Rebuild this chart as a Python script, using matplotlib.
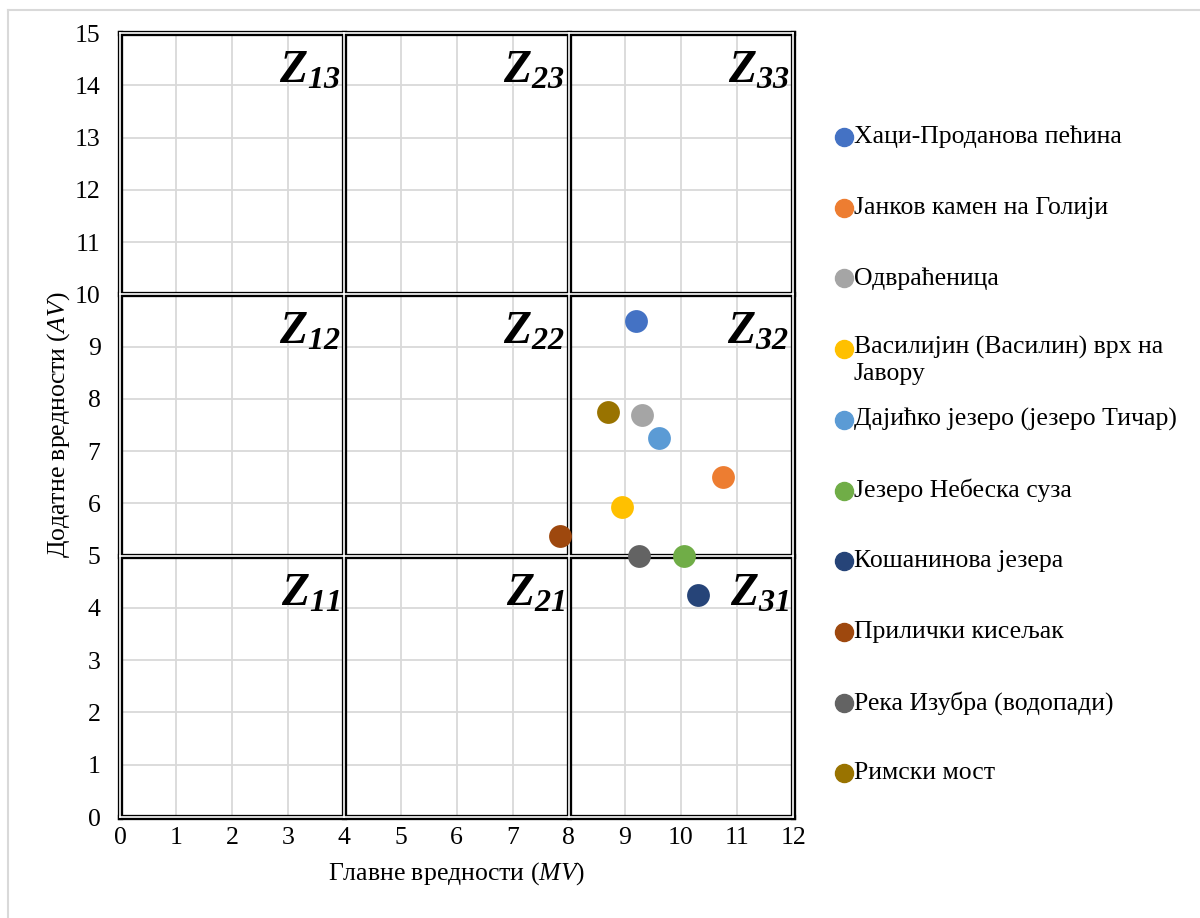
import matplotlib.pyplot as plt
from matplotlib.lines import Line2D

plt.rcParams['font.family'] = ['Liberation Serif', 'DejaVu Serif']
plt.rcParams['mathtext.fontset'] = 'custom'
plt.rcParams['mathtext.it'] = 'Liberation Serif:italic'
plt.rcParams['mathtext.rm'] = 'Liberation Serif'
plt.rcParams['mathtext.bf'] = 'Liberation Serif:bold:italic'

# data
names = ['Хаци-Проданова пећина', 'Јанков камен на Голији', 'Одвраћеница',
         'Василијин (Василин) врх на\nЈавору', 'Дајићко језеро (језеро Тичар)',
         'Језеро Небеска суза', 'Кошанинова језера', 'Прилички кисељак',
         'Река Изубра (водопади)', 'Римски мост']
mv = [9.2, 10.75, 9.3, 8.95, 9.6, 10.05, 10.3, 7.85, 9.25, 8.7]
av = [9.5, 6.5, 7.7, 5.93, 7.25, 5.0, 4.25, 5.37, 5.0, 7.75]
colors = ['#4472C4', '#ED7D31', '#A5A5A5', '#FFC000', '#5B9BD5',
          '#70AD47', '#264478', '#9E480E', '#636363', '#997300']

x_bounds = [0, 4, 8, 12]
y_bounds = [0, 5, 10, 15]
zones = [['11', '12', '13'], ['21', '22', '23'], ['31', '32', '33']]

fs = 18.5

fig = plt.figure(figsize=(12, 9.18), dpi=100)
ax = fig.add_axes([0.1, 0.11, 0.561, 0.854])
ax.set_xlim(0, 12)
ax.set_ylim(0, 15)
ax.set_xticks(range(0, 13))
ax.set_yticks(range(0, 16))
ax.tick_params(length=0, labelsize=fs)
ax.tick_params(axis='y', pad=14)
ax.tick_params(axis='x', pad=7)
for s in ax.spines.values():
    s.set_visible(False)
ax.grid(True, color='#D9D9D9', lw=1.3, zorder=0)

# double lines for zone borders
for xb in x_bounds:
    ax.plot([xb, xb], [0, 15], color='black', lw=3.8, zorder=2, clip_on=False, solid_capstyle='projecting')
for yb in y_bounds:
    ax.plot([0, 12], [yb, yb], color='black', lw=3.8, zorder=2, clip_on=False, solid_capstyle='projecting')
for xb in x_bounds:
    ax.plot([xb, xb], [0, 15], color='white', lw=1.2, zorder=3, clip_on=False)
for yb in y_bounds:
    ax.plot([0, 12], [yb, yb], color='white', lw=1.2, zorder=3, clip_on=False)

for i in range(3):
    for j in range(3):
        ax.text(x_bounds[i + 1] - 0.07, y_bounds[j + 1] - 0.33,
                r'$\mathbf{Z_{%s}}$' % zones[i][j], ha='right', va='top',
                fontsize=33, zorder=4)

for k in range(len(names)):
    ax.scatter(mv[k], av[k], s=270, color=colors[k], zorder=5, linewidths=0)

ax.set_xlabel('Главне вредности ($MV$)', fontsize=fs, labelpad=8)
ax.set_ylabel('Додатне вредности ($AV$)', fontsize=fs, labelpad=2)

# legend
for k, name in enumerate(names):
    yy = 1 - (137 + k * 70.7) / 918
    fig.add_artist(Line2D([844 / 1200], [yy], marker='o', ms=13, color=colors[k],
                          mec=colors[k], lw=0))
    if '\n' in name:
        fig.text(854 / 1200, yy + 13 / 918, name, fontsize=fs, va='top', linespacing=1.2)
    else:
        fig.text(854 / 1200, yy, name, fontsize=fs, va='center')

# outer frame (top and left only visible)
fig.add_artist(Line2D([8 / 1200, 1], [1 - 10 / 918, 1 - 10 / 918], color='#D9D9D9', lw=1.5))
fig.add_artist(Line2D([8 / 1200, 8 / 1200], [0, 1 - 10 / 918], color='#D9D9D9', lw=1.5))

fig.savefig('out.png', dpi=100, facecolor='white')
